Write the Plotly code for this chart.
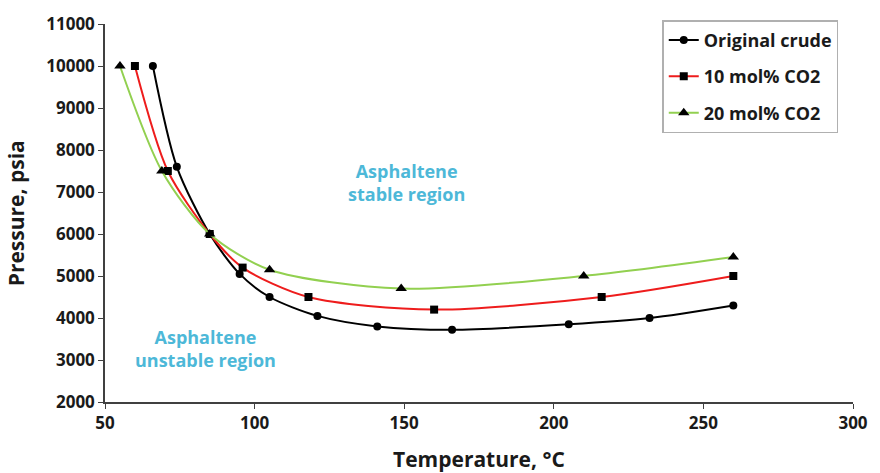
import plotly.graph_objects as go

# Asphaltene onset pressure vs temperature for three CO2 loadings
crude_T = [66, 74, 85, 95, 105, 121, 141, 166, 205, 232, 260]
crude_P = [10000, 7600, 6000, 5050, 4500, 4050, 3800, 3720, 3850, 4000, 4300]

co2_10_T = [60, 71, 85, 96, 118, 160, 216, 260]
co2_10_P = [10000, 7500, 6000, 5200, 4500, 4200, 4500, 5000]

co2_20_T = [55, 69, 85, 105, 149, 210, 260]
co2_20_P = [10000, 7500, 6000, 5150, 4700, 5000, 5450]

x_ticks = [50, 100, 150, 200, 250, 300]
y_ticks = [2000, 3000, 4000, 5000, 6000, 7000, 8000, 9000, 10000, 11000]

FONT = "Open Sans"
TXT = "#1a1a1a"
BLUE = "#4db8d8"

series = [
    ("Original crude", crude_T, crude_P, "#000000", "circle", 8),
    ("10 mol% CO2", co2_10_T, co2_10_P, "#ee1c1c", "square", 8),
    ("20 mol% CO2", co2_20_T, co2_20_P, "#92d050", "triangle-up", 10),
]

fig = go.Figure()
for i, (name, xs, ys, col, sym, msize) in enumerate(series):
    fig.add_trace(go.Scatter(
        x=xs, y=ys, name=f"<b>{name}</b>", mode="lines+markers",
        line=dict(color=col, width=2, shape="spline", smoothing=0.8),
        marker=dict(symbol=sym, size=msize, color="#000000"),
        legendgroup=f"g{i}",
    ))

axis_common = dict(
    showgrid=False, zeroline=False, showline=True, linecolor="#404040",
    linewidth=1.5, ticks="outside", ticklen=5, tickcolor="#404040",
    tickfont=dict(family=FONT, size=17, color=TXT),
)

fig.update_xaxes(range=[50, 300], tickvals=x_ticks,
                 ticktext=[f"<b>{v}</b>" for v in x_ticks], **axis_common)
fig.update_yaxes(range=[2000, 11000], tickvals=y_ticks,
                 ticktext=[f"<b>{v}</b>" for v in y_ticks], **axis_common)

fig.add_annotation(text="<b>Pressure, psia</b>", xref="paper", yref="paper",
                   x=-0.14, y=0.5, textangle=-90, showarrow=False,
                   font=dict(family=FONT, size=21, color=TXT))
fig.add_annotation(text="<b>Temperature, °C</b>", xref="paper", yref="paper",
                   x=0.5, y=-0.15, showarrow=False, yanchor="middle",
                   font=dict(family=FONT, size=21, color=TXT))

fig.add_annotation(text="<b>Asphaltene<br>stable region</b>", x=150.7, y=7230,
                   showarrow=False, font=dict(family=FONT, size=18, color=BLUE))
fig.add_annotation(text="<b>Asphaltene<br>unstable region</b>", x=83.6, y=3280,
                   showarrow=False, font=dict(family=FONT, size=18, color=BLUE))

fig.update_layout(
    width=880, height=473,
    margin=dict(l=105, r=23, t=15, b=71),
    paper_bgcolor="white", plot_bgcolor="white",
    legend=dict(
        x=0.745, y=1.01, xanchor="left", yanchor="top",
        bordercolor="#b0b0b0", borderwidth=1.5, bgcolor="white",
        font=dict(family=FONT, size=18, color=TXT),
        tracegroupgap=10, traceorder="grouped",
    ),
)

fig.write_html("out.html")
